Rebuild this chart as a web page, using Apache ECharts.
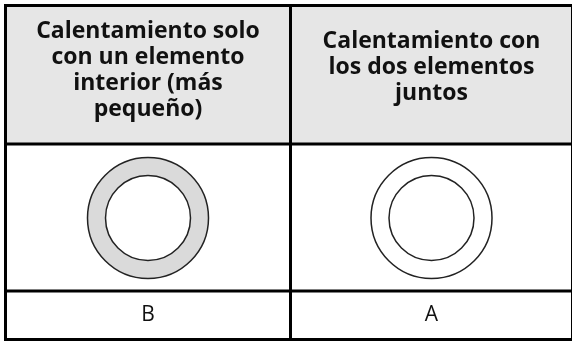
<!DOCTYPE html>
<html>
<head>
<meta charset="utf-8">
<script src="https://cdn.jsdelivr.net/npm/echarts@6/dist/echarts.min.js"></script>
<style>html,body{margin:0;padding:0;background:#fff}#c{width:572px;height:342px}</style>
</head>
<body>
<div id="c"></div>
<script>
// Data
const headers = ['Calentamiento solo\ncon un elemento\ninterior (más\npequeño)', 'Calentamiento con\nlos dos elementos\njuntos'];
const rowLabels = ['B', 'A'];
const rings = [1, 1];
const ringNames = ['B', 'A'];

const chart = echarts.init(document.getElementById('c'), null, {renderer: 'canvas'});

// layout
const L = 5.5, R = 572.5, T = 5.5, B = 339.5, HY = 144, RY = 291, VX = 290.5;
const colCenters = [(L + VX) / 2, (VX + R) / 2];
const headerY = [70, 67];
const ringFill = ['#dadada', '#ffffff'];
const lw = 3;

const graphic = [];
graphic.push({type: 'rect', shape: {x: L, y: T, width: R - L, height: HY - T}, style: {fill: '#e6e6e6'}, z: 0});
headers.forEach((h, i) => {
  graphic.push({type: 'text', x: colCenters[i], y: headerY[i], style: {text: h, fill: '#111', font: 'bold 23px "Open Sans"', lineHeight: 26, align: 'center', verticalAlign: 'middle'}, z: 5});
});
rowLabels.forEach((t, i) => {
  graphic.push({type: 'text', x: colCenters[i], y: (RY + B) / 2, style: {text: t, fill: '#111', font: '21px "Open Sans"', align: 'center', verticalAlign: 'middle'}, z: 5});
});
const lineStyle = {stroke: '#000', lineWidth: lw};
graphic.push({type: 'rect', shape: {x: L, y: T, width: R - L, height: B - T}, style: {fill: 'none', stroke: '#000', lineWidth: lw}, z: 10});
graphic.push({type: 'line', shape: {x1: L, y1: HY, x2: R, y2: HY}, style: lineStyle, z: 10});
graphic.push({type: 'line', shape: {x1: L, y1: RY, x2: R, y2: RY}, style: lineStyle, z: 10});
graphic.push({type: 'line', shape: {x1: VX, y1: T, x2: VX, y2: B}, style: lineStyle, z: 10});

const series = rings.map((v, i) => ({
  type: 'pie',
  silent: true,
  center: [colCenters[i], 218],
  radius: [42.5, 60.5],
  label: {show: false},
  labelLine: {show: false},
  animation: false,
  itemStyle: {color: ringFill[i], borderColor: '#222', borderWidth: 1.5},
  data: [{value: v, name: ringNames[i]}]
}));

chart.setOption({
  animation: false,
  graphic: graphic,
  series: series
});
</script>
</body>
</html>
